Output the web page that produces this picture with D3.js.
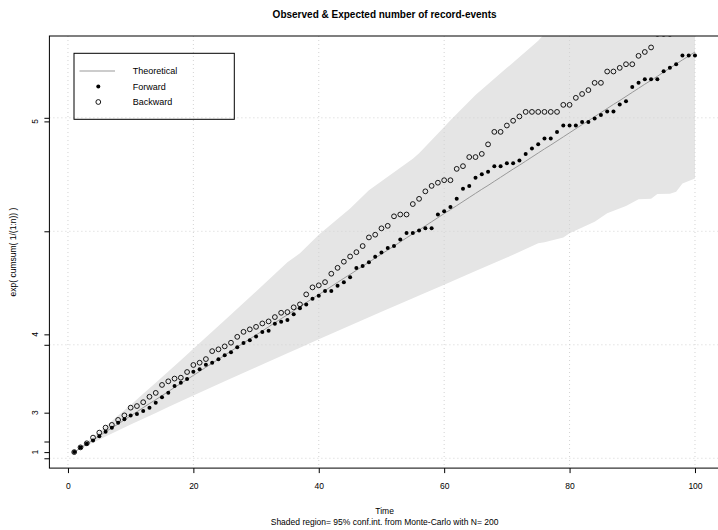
<!DOCTYPE html>
<html><head><meta charset="utf-8">
<script src="https://cdn.jsdelivr.net/npm/d3@7"></script>
<style>
body{margin:0;background:#fff}
svg{display:block}
text{font-family:"Liberation Sans",Arial,Helvetica,sans-serif;fill:#000}
</style>
</head><body>
<svg id="chart" width="718" height="530"></svg>
<script>
// ---------------- data ----------------
const time = d3.range(1, 101);
const theoretical = [2.7,4.5,6.3,8.0,9.8,11.6,13.4,15.1,16.9,18.7,
20.5,22.3,24.1,25.8,27.6,29.4,31.2,33.0,34.7,36.5,
38.3,40.1,41.9,43.6,45.4,47.2,49.0,50.8,52.6,54.3,
56.1,57.9,59.7,61.5,63.2,65.0,66.8,68.6,70.4,72.1,
73.9,75.7,77.5,79.3,81.0,82.8,84.6,86.4,88.2,90.0,
91.7,93.5,95.3,97.1,98.9,100.6,102.4,104.2,106.0,107.8,
109.5,111.3,113.1,114.9,116.7,118.5,120.2,122.0,123.8,125.6,
127.4,129.1,130.9,132.7,134.5,136.3,138.0,139.8,141.6,143.4,
145.2,147.0,148.7,150.5,152.3,154.1,155.9,157.6,159.4,161.2,
163.0,164.8,166.5,168.3,170.1,171.9,173.7,175.5,177.2,179.0];
const forward = [2.72,4.8,6.4,7.8,9.7,11.7,13.5,15.7,17.2,18.8,
19.5,20.8,22.3,24.5,26.9,28.9,31.8,33.3,34.9,38.1,
39.2,41.2,42.1,43.6,45.4,46.7,48.9,50.8,52.0,53.7,
55.6,56.2,59.3,60.2,60.9,63.4,66.1,67.8,70.3,71.6,
73.7,73.7,76.0,77.5,79.7,83.8,84.7,86.4,88.8,90.7,
92.6,93.5,96.4,99.3,99.3,100.4,101.3,101.3,107.4,108.8,
110.7,114.3,118.7,120.0,123.6,125.1,126.2,128.7,128.7,130.0,
130.0,131.2,134.1,136.5,138.3,140.9,140.9,143.7,146.6,146.6,
146.6,148.1,148.1,149.7,151.2,152.8,152.8,155.9,157.3,163.6,
165.4,167.0,167.0,167.0,170.5,172.0,173.6,177.5,177.5,177.5];
const backward = [2.72,4.8,6.6,9.1,11.3,13.5,14.7,16.9,18.9,22.3,
23.0,24.7,27.1,28.8,32.3,33.9,35.1,35.5,38.0,41.1,
42.1,43.7,47.2,48.0,49.3,50.9,53.5,55.7,56.8,57.9,
59.4,60.3,62.2,64.1,64.4,66.5,67.8,72.2,75.3,76.2,
77.6,81.3,83.9,86.6,88.9,90.8,93.5,97.3,98.5,101.3,
102.4,106.6,107.4,107.4,112.0,114.3,117.6,120.0,121.4,122.5,
122.5,127.5,128.7,132.7,132.7,134.1,138.3,143.8,143.8,146.6,
148.7,150.6,152.6,152.6,152.6,152.6,152.6,152.6,155.7,155.7,
158.8,160.5,162.2,165.4,165.4,170.4,170.4,172.0,173.6,173.6,
177.3,179.0,181.0,187.0,187.0,187.0,189.0,190.5,190.5,192.0];
// Monte-Carlo 95% band (read at selected times)
const bandTime  = [1,2,3,4,5,6,8,10,12,14,16,18,20,25,30,35,37,40,45,48,50,55,56,60,61,65,70,75,76,79,80,82,84,86,89,91,93,94,96,97,98,100];
const bandLower = [2.72,4.1,5.5,6.9,8.2,9.6,12.2,14.9,17.4,20.0,22.6,25.1,27.7,33.9,40.1,46.3,48.7,52.4,58.5,62.1,64.5,70.5,71.7,76.5,77.7,82.5,88.4,94.7,95.2,97.3,99.1,101.7,104.2,107.9,111.1,114.1,114.3,116.4,116.5,117.4,121.1,123.3];
const bandUpper = [2.72,4.9,7.2,9.4,11.7,14.0,18.8,23.5,28.4,33.3,38.2,43.2,48.2,60.8,73.5,86.4,90.3,98.5,110.0,118.1,122.0,132.0,134.4,146.0,148.9,160.0,172.0,184.0,187.0,196,199,204,209,214,221,226,231,233,238,240,243,248];
const xTicks = [0, 20, 40, 60, 80, 100];
const yGridTicks = [0, 50, 100, 150];
const yLogTicks = [1, 2, 3, 4, 5];
const yLogLabels = ["1", "", "3", "4", "5"];
const legendLabels = ["Theoretical", "Forward", "Backward"];

// ---------------- layout ----------------
const L = 49.4, R = 719.8, T = 36, B = 468.1;
const x = d3.scaleLinear().domain([-2.96, 103.96]).range([L, R]);
const y = d3.scaleLinear().domain([-4.33, 186.04]).range([B, T]);
const svg = d3.select("#chart");
svg.append("rect").attr("width", 718).attr("height", 530).attr("fill", "#fff");

svg.append("defs").append("clipPath").attr("id", "clip")
  .append("rect").attr("x", L).attr("y", T).attr("width", R - L).attr("height", B - T);
const plot = svg.append("g").attr("clip-path", "url(#clip)");

// band
const bandData = bandTime.map((t, i) => ({t, lo: bandLower[i], hi: bandUpper[i]}));
plot.append("path").datum(bandData)
  .attr("d", d3.area().x(d => x(d.t)).y0(d => y(d.lo)).y1(d => y(d.hi)))
  .attr("fill", "#e5e5e5").attr("stroke", "none");

// grid
plot.selectAll("line.vg").data(xTicks).join("line")
  .attr("x1", d => x(d)).attr("x2", d => x(d)).attr("y1", T).attr("y2", B)
  .attr("stroke", "#d3d3d3").attr("stroke-dasharray", "1,3");
plot.selectAll("line.hg").data(yGridTicks).join("line")
  .attr("y1", d => y(d)).attr("y2", d => y(d)).attr("x1", L).attr("x2", R)
  .attr("stroke", "#d3d3d3").attr("stroke-dasharray", "1,3");

// theoretical line
plot.append("path").datum(time)
  .attr("d", d3.line().x(t => x(t)).y((t, i) => y(theoretical[i])))
  .attr("fill", "none").attr("stroke", "#999").attr("stroke-width", 1);

// points
plot.selectAll("circle.fw").data(forward).join("circle")
  .attr("cx", (d, i) => x(time[i])).attr("cy", d => y(d)).attr("r", 2).attr("fill", "#000");
plot.selectAll("circle.bw").data(backward).join("circle")
  .attr("cx", (d, i) => x(time[i])).attr("cy", d => y(d)).attr("r", 2.4)
  .attr("fill", "none").attr("stroke", "#000").attr("stroke-width", 0.9);

// frame
svg.append("rect").attr("x", L).attr("y", T).attr("width", R - L).attr("height", B - T)
  .attr("fill", "none").attr("stroke", "#000").attr("stroke-width", 1);

// x axis
const xa = svg.append("g").attr("transform", `translate(0,${B})`)
  .call(d3.axisBottom(x).tickValues(xTicks).tickSize(5).tickPadding(10).tickFormat(d3.format("d")));
xa.select(".domain").remove();
xa.selectAll("text").style("font-size", "8.5px").attr("font-family", "Liberation Sans, Arial, sans-serif");

// y axis: plain ticks + labelled exp ticks
const ya = svg.append("g").attr("transform", `translate(${L},0)`)
  .call(d3.axisLeft(y).tickValues(yGridTicks).tickSize(5).tickFormat(""));
ya.select(".domain").remove();
const yb = svg.append("g").attr("transform", `translate(${L},0)`)
  .call(d3.axisLeft(y).tickValues(yLogTicks.map(Math.exp)).tickSize(5).tickFormat(""));
yb.select(".domain").remove();
svg.selectAll("text.ylab").data(yLogTicks).join("text").attr("class", "ylab")
  .attr("transform", d => `translate(35,${y(Math.exp(d))}) rotate(-90)`)
  .attr("text-anchor", "middle").attr("dy", "0.35em")
  .style("font-size", "8.5px")
  .text((d, i) => yLogLabels[i]);

// titles
svg.append("text").attr("x", (L + R) / 2).attr("y", 18).attr("text-anchor", "middle")
  .style("font-size", "10px").style("font-weight", "bold")
  .text("Observed & Expected number of record-events");
svg.append("text").attr("x", (L + R) / 2).attr("y", 514).attr("text-anchor", "middle")
  .style("font-size", "8.5px").text("Time");
svg.append("text").attr("x", (L + R) / 2).attr("y", 525).attr("text-anchor", "middle")
  .style("font-size", "8.5px").text("Shaded region= 95% conf.int. from Monte-Carlo with N= 200");
svg.append("text").attr("transform", `translate(13,${(T + B) / 2}) rotate(-90)`)
  .attr("text-anchor", "middle").attr("dy", "0.35em")
  .style("font-size", "8.5px").text("exp( cumsum( 1/(1:n)) )");

// legend
const lg = svg.append("g");
lg.append("rect").attr("x", 74).attr("y", 53.3).attr("width", 160.3).attr("height", 66)
  .attr("fill", "none").attr("stroke", "#000");
const rowY = [71, 86.5, 102];
lg.append("line").attr("x1", 79.5).attr("x2", 115).attr("y1", rowY[0]).attr("y2", rowY[0])
  .attr("stroke", "#999");
lg.append("circle").attr("cx", 98.3).attr("cy", rowY[1]).attr("r", 2).attr("fill", "#000");
lg.append("circle").attr("cx", 98.3).attr("cy", rowY[2]).attr("r", 2.4)
  .attr("fill", "none").attr("stroke", "#000").attr("stroke-width", 0.9);
lg.selectAll("text").data(legendLabels).join("text")
  .attr("x", 132.7).attr("y", (d, i) => rowY[i]).attr("dy", "0.35em")
  .style("font-size", "9px").text(d => d);
</script>
</body></html>
